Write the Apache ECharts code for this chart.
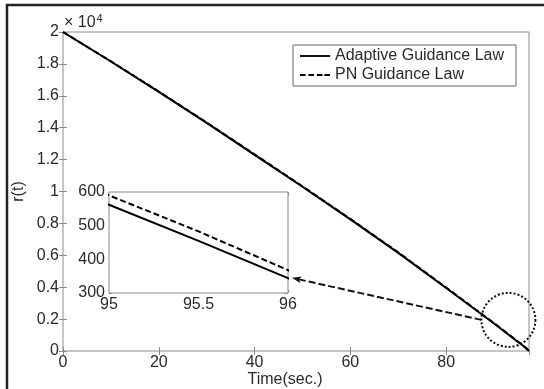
<!DOCTYPE html>
<html>
<head>
<meta charset="utf-8">
<script src="https://cdn.jsdelivr.net/npm/echarts@6/dist/echarts.min.js"></script>
<style>
  html, body { margin: 0; padding: 0; background: #fff; }
  #chart { width: 544px; height: 389px; }
</style>
</head>
<body>
<div id="chart"></div>
<script>
// time samples (sec.) and range r(t)
const timeData = [0, 10, 20, 30, 40, 50, 60, 70, 80, 90, 95, 95.5, 96, 97.3]
const rAdaptive = [20000, 18150, 16250, 14300, 12300, 10300, 8250, 6150, 3950, 1720, 562, 455, 344, 0]
const rPN = [20000, 18160, 16270, 14320, 12330, 10330, 8280, 6180, 3980, 1750, 590, 483, 368, 25]
const seriesNames = ['Adaptive Guidance Law', 'PN Guidance Law']
const mainXTicks = [0, 20, 40, 60, 80]
const insetXTicks = [95, 95.5, 96]

const FONT = "'Liberation Sans', Arial, sans-serif"
const AXIS_GRAY = '#8a8a8a'
const TEXT = '#2a2a2a'

const pairs = (xs, ys) => xs.map((x, i) => [x, ys[i]])

const myChart = echarts.init(document.getElementById('chart'))

const hiddenAxis = (type, extra) => Object.assign({
  type: type,
  axisLine: { show: false },
  axisLabel: { show: false },
  splitLine: { show: false },
  axisTick: { inside: true, length: 4, lineStyle: { color: AXIS_GRAY } }
}, extra)

const tickLabel = { color: TEXT, fontSize: 16, fontFamily: FONT }

// legend icons: a solid bar and a dashed bar
const solidIcon = 'path://M0,0h32v2h-32z'
const dashIcon = 'path://M0,0h6v2h-6z M9,0h6v2h-6z M18,0h6v2h-6z M26,0h6v2h-6z'

myChart.setOption({
  animation: false,
  backgroundColor: '#fff',
  grid: [
    { left: 63, top: 32, right: 15, bottom: 38, show: true, borderColor: AXIS_GRAY, borderWidth: 1, backgroundColor: '#fff', outerBoundsMode: 'none' },
    { left: 109, top: 192, width: 179, height: 101, show: true, borderColor: AXIS_GRAY, borderWidth: 1, backgroundColor: '#fff', z: 5, outerBoundsMode: 'none' }
  ],
  legend: {
    data: [
      { name: seriesNames[0], icon: solidIcon },
      { name: seriesNames[1], icon: dashIcon }
    ],
    orient: 'vertical',
    left: 293,
    top: 45,
    itemWidth: 30,
    itemHeight: 2,
    itemGap: 3,
    padding: [3, 12, 3, 7],
    borderColor: '#666',
    borderWidth: 1,
    backgroundColor: '#fff',
    itemStyle: { color: '#000' },
    textStyle: { color: TEXT, fontSize: 16, fontFamily: FONT }
  },
  xAxis: [
    {
      type: 'value', gridIndex: 0, min: 0, max: 97.3, interval: 20,
      name: 'Time(sec.)', nameLocation: 'middle', nameGap: 21, nameMoveOverlap: false,
      nameTextStyle: { color: TEXT, fontSize: 16, fontFamily: FONT, padding: [0, 22, 0, 0] },
      axisLine: { show: false },
      axisTick: { inside: true, length: 4, lineStyle: { color: AXIS_GRAY } },
      axisLabel: Object.assign({ margin: 4, showMaxLabel: false,
        formatter: v => mainXTicks.includes(v) ? String(v) : '' }, tickLabel),
      splitLine: { show: false }
    },
    hiddenAxis('value', { gridIndex: 0, position: 'top', min: 0, max: 97.3, interval: 20 }),
    {
      type: 'value', gridIndex: 1, min: 95, max: 96, interval: 0.5,
      axisLine: { show: false },
      axisTick: { inside: true, length: 3, lineStyle: { color: AXIS_GRAY } },
      axisLabel: Object.assign({ margin: 4,
        formatter: v => insetXTicks.includes(v) ? String(v) : '' }, tickLabel),
      splitLine: { show: false }
    },
    hiddenAxis('value', { gridIndex: 1, position: 'top', min: 95, max: 96, interval: 0.5 })
  ],
  yAxis: [
    {
      type: 'value', gridIndex: 0, min: 0, max: 20000, interval: 2000,
      name: 'r(t)', nameLocation: 'middle', nameGap: 36, nameRotate: 90, nameMoveOverlap: false,
      nameTextStyle: { color: TEXT, fontSize: 16, fontFamily: FONT },
      axisLine: { show: false },
      axisTick: { inside: true, length: 4, lineStyle: { color: AXIS_GRAY } },
      axisLabel: Object.assign({ margin: 4, formatter: v => String(+(v / 10000).toFixed(1)) }, tickLabel),
      splitLine: { show: false }
    },
    hiddenAxis('value', { gridIndex: 0, position: 'right', min: 0, max: 20000, interval: 2000 }),
    {
      type: 'value', gridIndex: 1, min: 300, max: 600, interval: 100,
      axisLine: { show: false },
      axisTick: { inside: true, length: 3, lineStyle: { color: AXIS_GRAY } },
      axisLabel: Object.assign({ margin: 4 }, tickLabel),
      splitLine: { show: false }
    },
    hiddenAxis('value', { gridIndex: 1, position: 'right', min: 300, max: 600, interval: 100 })
  ],
  series: [
    {
      name: seriesNames[0], type: 'line', xAxisIndex: 0, yAxisIndex: 0,
      data: pairs(timeData, rAdaptive), showSymbol: false, symbol: 'none',
      lineStyle: { color: '#000', width: 2 }, itemStyle: { color: '#000' }, z: 3
    },
    {
      name: seriesNames[1], type: 'line', xAxisIndex: 0, yAxisIndex: 0,
      data: pairs(timeData, rPN), showSymbol: false, symbol: 'none',
      lineStyle: { color: '#000', width: 2, type: [6, 3] }, itemStyle: { color: '#000' }, z: 2
    },
    {
      name: seriesNames[0], type: 'line', xAxisIndex: 2, yAxisIndex: 2,
      data: pairs(timeData, rAdaptive), showSymbol: false, symbol: 'none', clip: true,
      lineStyle: { color: '#000', width: 2 }, itemStyle: { color: '#000' }, z: 6
    },
    {
      name: seriesNames[1], type: 'line', xAxisIndex: 2, yAxisIndex: 2,
      data: pairs(timeData, rPN), showSymbol: false, symbol: 'none', clip: true,
      lineStyle: { color: '#000', width: 2, type: [6, 3] }, itemStyle: { color: '#000' }, z: 6
    }
  ]
})

// annotations: zoom circle near the end of the run and arrow into the inset
const circleC = myChart.convertToPixel({ gridIndex: 0 }, [93, 1950])
const circleR = 27
const arrowEnd = myChart.convertToPixel({ gridIndex: 1 }, [96, 345])
arrowEnd[0] += 4
const arrowStart = [circleC[0] - circleR, circleC[1]]
const ang = Math.atan2(arrowStart[1] - arrowEnd[1], arrowStart[0] - arrowEnd[0])
const head = (len, off) => [arrowEnd[0] + len * Math.cos(ang + off), arrowEnd[1] + len * Math.sin(ang + off)]

myChart.setOption({
  graphic: [
    { type: 'polyline', z: 100, silent: true, shape: { points: [[7, 389], [7, 5], [544, 5]] },
      style: { stroke: '#222', lineWidth: 2.5, fill: null } },
    { type: 'text', left: 64, top: 13, z: 100, silent: true,
      style: { text: '× 10{sup|4}', fill: TEXT, font: '16px ' + FONT,
        rich: { sup: { fontSize: 11, fontFamily: FONT, verticalAlign: 'top', padding: [0, 0, 9, 1], fill: TEXT } } } },
    { type: 'circle', z: 100, silent: true, shape: { cx: circleC[0], cy: circleC[1], r: circleR },
      style: { stroke: '#111', lineWidth: 2, lineDash: [2, 2], fill: null } },
    { type: 'line', z: 100, silent: true,
      shape: { x1: arrowStart[0], y1: arrowStart[1], x2: head(6, 0)[0], y2: head(6, 0)[1] },
      style: { stroke: '#111', lineWidth: 2, lineDash: [7, 3] } },
    { type: 'polygon', z: 100, silent: true,
      shape: { points: [arrowEnd, head(10, 0.35), head(7, 0), head(10, -0.35)] },
      style: { fill: '#111' } }
  ]
})
</script>
</body>
</html>
